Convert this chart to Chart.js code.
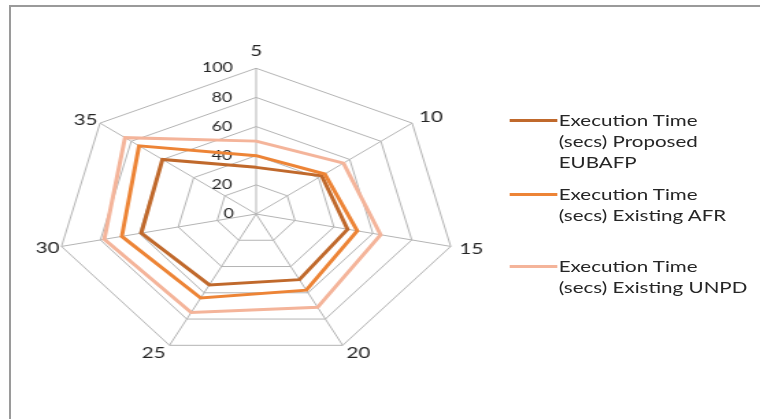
<!DOCTYPE html>
<html>
<head>
<meta charset="utf-8">
<title>Execution Time radar</title>
<script src="https://cdn.jsdelivr.net/npm/chart.js@4.4.1/dist/chart.umd.min.js"></script>
<style>
  html, body { margin: 0; padding: 0; background: #fff; }
  #page { position: relative; width: 760px; height: 419px; overflow: hidden; background: #fff; }
  #frame { position: absolute; left: 9px; top: 5px; right: -10px; bottom: -10px;
           border-top: 2px solid #9a9a9a; border-left: 2px solid #9a9a9a; }
  /* the reference picture is stretched sideways, so the whole drawing is too */
  #stage { position: absolute; left: 0; top: 0; width: 555px; height: 419px;
           transform: scaleX(1.3694); transform-origin: 0 0; }
  #radar { position: absolute; left: 0; top: 0; }
  .item { position: absolute; left: 372px; font-family: Lato, sans-serif; font-size: 15px;
          line-height: 21px; color: #262626; white-space: nowrap; }
  .item .swatch { position: absolute; left: 0; top: 9px; width: 35px; height: 3px; }
  .item .txt { position: absolute; left: 36px; top: 0; }
</style>
</head>
<body>
<div id="page">
  <div id="frame"></div>
  <div id="stage">
    <canvas id="radar" width="555" height="419"></canvas>
    <div id="legend"></div>
  </div>
</div>

<script>
// axis categories
const labels = ['5', '10', '15', '20', '25', '30', '35'];

// execution time (secs) per series
const proposedEUBAFP = [32, 42, 47, 50, 54, 59, 60];
const existingAFR = [40, 44, 52, 58, 64, 69, 75];
const existingUNPD = [50, 56, 64, 71, 75, 78, 84];

// radial tick range (min just under 0 so the "0" label is drawn)
const rMin = -0.001;
const rMax = 100;
const rStep = 20;

// legend text, one entry per series
const seriesNames = [
    ['Execution Time', '(secs) Proposed', 'EUBAFP'],
    ['Execution Time', '(secs) Existing AFR'],
    ['Execution Time', '(secs) Existing UNPD']
];
const seriesColors = ['#C0692C', '#ED8436', '#F4B49A'];
const legendTops = [110, 184, 256];

// per-label gap between ring and category label
const labelPad = [9, 0, 0, 0, 0, -5, -4];

const tickFont = { family: 'Lato', size: 13 };
const labelFont = { family: 'Lato', size: 15, lineHeight: 0.2 };

// tick labels sit left of the vertical axis: pad them with trailing spaces
const meas = document.createElement('canvas').getContext('2d');
meas.font = tickFont.size + 'px ' + tickFont.family;
const spaceW = meas.measureText(' ').width;
function shiftLeft(v) {
    const s = String(Math.round(v));
    const w = meas.measureText(s).width;
    const n = Math.max(0, Math.round((w + 34) / spaceW));
    return s + ' '.repeat(n);
}

const seriesData = [proposedEUBAFP, existingAFR, existingUNPD];

chart_radar = new Chart(document.getElementById('radar'), {
    type: 'radar',
    data: {
        labels: labels,
        datasets: seriesData.map(function (d, i) {
            return {
                label: seriesNames[i].join(' '),
                data: d,
                borderColor: seriesColors[i],
                backgroundColor: seriesColors[i],
                borderWidth: 3,
                pointRadius: 0,
                pointHoverRadius: 0,
                fill: false,
                tension: 0
            };
        }).reverse()
    },
    options: {
        responsive: false,
        animation: false,
        layout: { padding: { left: 24, right: 200, top: 25, bottom: 16 } },
        plugins: {
            legend: { display: false },
            tooltip: { enabled: false }
        },
        scales: {
            r: {
                min: rMin,
                max: rMax,
                angleLines: { color: '#b4b4b4', lineWidth: 1 },
                grid: { color: '#b4b4b4', lineWidth: 1 },
                pointLabels: {
                    font: labelFont,
                    color: '#262626',
                    padding: function (ctx) { return labelPad[ctx.index]; }
                },
                ticks: {
                    stepSize: rStep,
                    font: tickFont,
                    color: '#262626',
                    showLabelBackdrop: false,
                    backdropPadding: 0,
                    callback: function (v) { return shiftLeft(v); }
                }
            }
        }
    }
});

// legend built from the same series names and colours
const legend = document.getElementById('legend');
seriesNames.forEach(function (lines, i) {
    const item = document.createElement('div');
    item.className = 'item';
    item.style.top = legendTops[i] + 'px';
    const sw = document.createElement('div');
    sw.className = 'swatch';
    sw.style.background = seriesColors[i];
    const txt = document.createElement('div');
    txt.className = 'txt';
    txt.innerHTML = lines.join('<br>');
    item.appendChild(sw);
    item.appendChild(txt);
    legend.appendChild(item);
});
</script>
</body>
</html>
